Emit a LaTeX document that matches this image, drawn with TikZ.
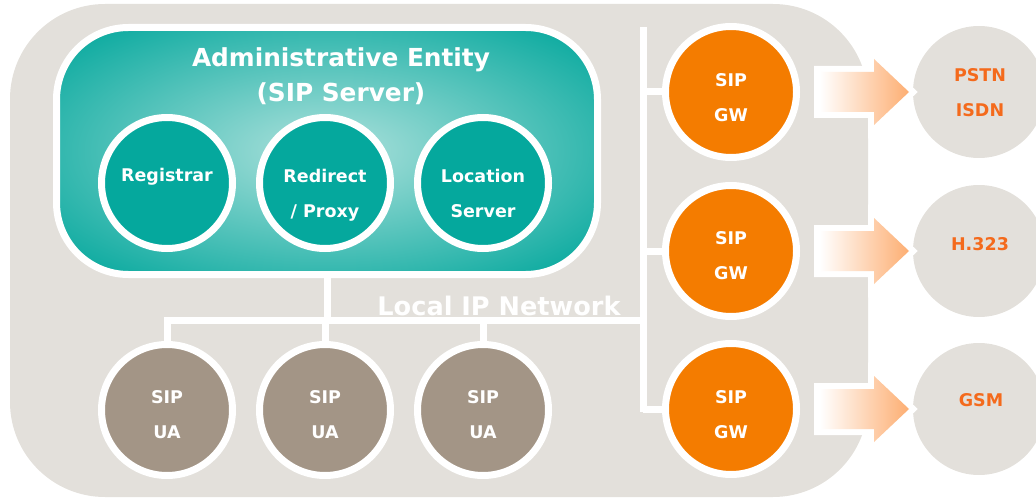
\documentclass[tikz,border=0pt]{standalone}
\usepackage{fontspec}
\setmainfont{DejaVu Sans}
\usetikzlibrary{calc}
\definecolor{bggray}{HTML}{E3E0DB}
\definecolor{tealc}{HTML}{05A89D}
\definecolor{glowc}{HTML}{95D9D3}
\definecolor{uabrown}{HTML}{A39586}
\definecolor{gworange}{HTML}{F47C00}
\definecolor{extorange}{HTML}{F46A1C}
\definecolor{peach}{HTML}{FDAE72}
\pgfdeclareradialshading{adminglow}{\pgfpoint{0bp}{0bp}}{color(0bp)=(glowc); color(5bp)=(glowc); color(34bp)=(tealc); color(50bp)=(tealc)}
\newcommand\lnstrut{\rule[-10.5pt]{0pt}{35pt}}
\begin{document}
\begin{tikzpicture}[x=1pt,y=-1pt,
  wire/.style={draw=white, line width=7pt, line join=miter},
  ringc/.style={circle, draw=white, line width=7pt, minimum size=131pt, inner sep=0pt},
  tealcirc/.style={ringc, fill=tealc},
  uacirc/.style={ringc, fill=uabrown},
  gwcirc/.style={ringc, fill=gworange},
  extcirc/.style={circle, fill=bggray, minimum size=132pt, inner sep=0pt},
  wlabel/.style={text=white, font=\bfseries\fontsize{17.5}{35}\selectfont, align=center, inner sep=0pt,
    execute at begin node=\lnstrut, execute at end node=\lnstrut},
  olabel/.style={wlabel, text=extorange},
  biglabel/.style={wlabel, font=\bfseries\fontsize{24.8}{35}\selectfont},
  netlabel/.style={wlabel, font=\bfseries\fontsize{25.6}{35}\selectfont},
  blockarrow/.style={left color=white, right color=peach,
    preaction={draw=white, line width=12pt, line join=miter}},
]
\useasboundingbox (0,0) rectangle (1036,500);
\clip (0,0) rectangle (1036,500);

% background
\fill[bggray, rounded corners=95pt] (10,4) rectangle (868,497);

% external networks
\node[extcirc] (pstn) at (979,92) {};
\node[extcirc] (h323) at (979,251) {};
\node[extcirc] (gsm) at (979,409) {};

% block arrows
\foreach \c in {92,251,409}{
  \shade[blockarrow] (820,\c-20) -- (874,\c-20) -- (874,\c-33) -- (909,\c)
    -- (874,\c+33) -- (874,\c+20) -- (820,\c+20) -- cycle;
}

% administrative entity
\node[draw=white, line width=7pt, rounded corners=72pt, minimum width=541pt,
      minimum height=247pt, shade, shading=adminglow] (admin) at (327,151) {};
\node[biglabel] (title) at (341,80) {Administrative Entity\\(SIP Server)};

\node[tealcirc] (reg) at (167,183) {};
\node[tealcirc] (red) at (325,183) {};
\node[tealcirc] (loc) at (483,183) {};

% user agents
\node[uacirc] (ua1) at (167,410) {};
\node[uacirc] (ua2) at (325,410) {};
\node[uacirc] (ua3) at (483,410) {};

% gateways
\node[gwcirc] (gw1) at (731,92) {};
\node[gwcirc] (gw2) at (731,251) {};
\node[gwcirc] (gw3) at (731,409) {};

% network wires
\coordinate (busL) at (167,320);
\coordinate (busR) at (643,320);
\coordinate (gtop) at (643,27);
\coordinate (gbot) at (643,412);
\draw[wire] (ua1.north) -- (ua1 |- busL) -- (busR);
\draw[wire] (admin.south) -- (admin.south |- busL);
\draw[wire] (ua2 |- busL) -- (ua2.north);
\draw[wire] (ua3 |- busL) -- (ua3.north);
\draw[wire] (gtop) -- (gbot);
\draw[wire] (gtop |- gw1) -- (gw1.west);
\draw[wire] (gtop |- gw2) -- (gw2.west);
\draw[wire] (gtop |- gw3) -- (gw3.west);

\node[netlabel] (net) at (499,308) {Local IP Network};

% labels
\node[wlabel] (regl) at ($(reg)+(0,-8.5)$) {Registrar};
\node[wlabel] (redl) at ($(red)+(0,15.5)$) {Redirect\\/ Proxy};
\node[wlabel] (locl) at ($(loc)+(0,15.5)$) {Location\\Server};
\node[wlabel] (ua1l) at ($(ua1)+(0,10)$) {SIP\\UA};
\node[wlabel] (ua2l) at ($(ua2)+(0,10)$) {SIP\\UA};
\node[wlabel] (ua3l) at ($(ua3)+(0,10)$) {SIP\\UA};
\node[wlabel] (gw1l) at ($(gw1)+(0,10.5)$) {SIP\\GW};
\node[wlabel] (gw2l) at ($(gw2)+(0,9.5)$) {SIP\\GW};
\node[wlabel] (gw3l) at ($(gw3)+(0,10.5)$) {SIP\\GW};
\node[olabel] (pstnl) at ($(pstn)+(1,6)$) {PSTN\\ISDN};
\node[olabel] (h323l) at ($(h323)+(1,-8)$) {H.323};
\node[olabel] (gsml) at ($(gsm)+(2,-9.5)$) {GSM};
\end{tikzpicture}
\end{document}
